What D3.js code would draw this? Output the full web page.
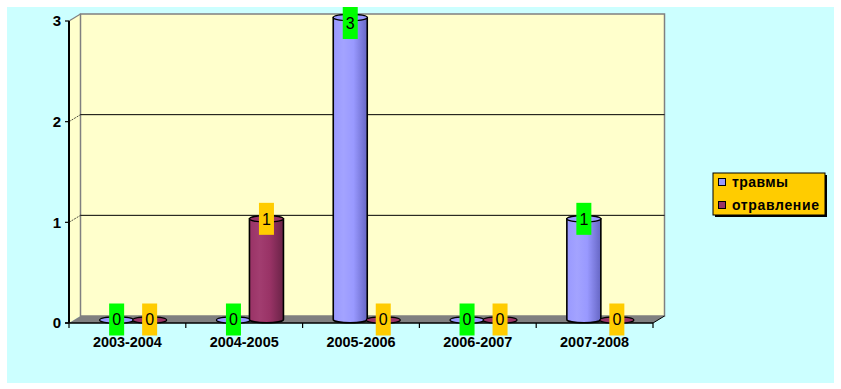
<!DOCTYPE html>
<html><head><meta charset="utf-8">
<script src="https://cdn.jsdelivr.net/npm/d3@7"></script>
<style>html,body{margin:0;padding:0;background:#fff;}svg{display:block;}</style>
</head><body>
<svg id="c" width="841" height="389"></svg>
<script>
const categories = ["2003-2004","2004-2005","2005-2006","2006-2007","2007-2008"];
const seriesNames = ["травмы","отравление"];
const travmy = [0,0,3,0,1];
const otravlenie = [0,1,0,0,0];
const yTicks = [0,1,2,3];
const seriesColors = ["#9999ff","#993366"];
const seriesDark = ["#6666c4","#6a2347"];
const seriesLight = ["#a3a3ff","#a23d70"];
const labelColors = ["#00ff00","#ffcc00"];

const svg = d3.select("#c");
svg.append("rect").attr("x",7).attr("y",7).attr("width",827).attr("height",376).attr("fill","#ccffff");

const X0 = 69, X1 = 653, DX = 11.5, DY = -7;
const x = d3.scaleBand().domain(categories).range([X0, X1]);
const y = d3.scaleLinear().domain([0,3]).range([323, 21]);

const defs = svg.append("defs");
seriesColors.forEach((c,i)=>{
  const g = defs.append("linearGradient").attr("id","g"+i).attr("x1","0").attr("x2","1").attr("y1","0").attr("y2","0");
  g.append("stop").attr("offset","0").attr("stop-color",seriesColors[i]);
  g.append("stop").attr("offset","0.3").attr("stop-color",seriesLight[i]);
  g.append("stop").attr("offset","0.6").attr("stop-color",seriesColors[i]);
  g.append("stop").attr("offset","1").attr("stop-color",seriesDark[i]);
});

// left wall
svg.append("path").attr("d",`M${X0},${y(3)} L${X0+DX},${y(3)+DY} L${X0+DX},${y(0)+DY} L${X0},${y(0)} Z`)
  .attr("fill","#ffffcc");
// back wall
svg.append("rect").attr("x",X0+DX).attr("y",y(3)+DY).attr("width",X1-X0).attr("height",y(0)-y(3))
  .attr("fill","#ffffcc").attr("stroke","#808080").attr("stroke-width",1.5);
svg.append("line").attr("x1",X0).attr("y1",y(3)).attr("x2",X0+DX).attr("y2",y(3)+DY).attr("stroke","#808080").attr("stroke-width",1.2);
// gridlines
[1,2].forEach(v=>{
  svg.append("line").attr("x1",X0+DX).attr("x2",X1+DX).attr("y1",y(v)+DY).attr("y2",y(v)+DY).attr("stroke","#000").attr("stroke-width",1);
  svg.append("line").attr("x1",X0).attr("x2",X0+DX).attr("y1",y(v)).attr("y2",y(v)+DY).attr("stroke","#000").attr("stroke-width",0.7).attr("stroke-dasharray","2,1");
});
// floor
svg.append("path").attr("d",`M${X0},${y(0)} L${X0+DX},${y(0)+DY} L${X1+DX},${y(0)+DY} L${X1},${y(0)} Z`)
  .attr("fill","#808080");
svg.append("line").attr("x1",X1).attr("y1",y(0)).attr("x2",X1+DX).attr("y2",y(0)+DY).attr("stroke","#000").attr("stroke-width",1);

// axes
svg.append("line").attr("x1",X0).attr("x2",X0).attr("y1",y(3)).attr("y2",y(0)).attr("stroke","#000").attr("stroke-width",2);
svg.append("line").attr("x1",X0-4).attr("x2",X1).attr("y1",y(0)).attr("y2",y(0)).attr("stroke","#000").attr("stroke-width",1.5);
yTicks.forEach(v=>{
  svg.append("line").attr("x1",X0-4).attr("x2",X0).attr("y1",y(v)).attr("y2",y(v)).attr("stroke","#000").attr("stroke-width",1.2);
  svg.append("text").attr("x",61).attr("y",y(v)).attr("dy","0.36em").attr("text-anchor","end")
    .attr("font-family","Liberation Sans, Arial, sans-serif").attr("font-weight","bold").attr("font-size",15).text(v);
});
const bounds = categories.map(c=>x(c)).concat([X1]);
bounds.forEach(b=>{
  svg.append("line").attr("x1",b).attr("x2",b).attr("y1",y(0)).attr("y2",y(0)+5).attr("stroke","#000").attr("stroke-width",1.2);
});
categories.forEach(c=>{
  svg.append("text").attr("x",x(c)+x.bandwidth()/2).attr("y",347).attr("text-anchor","middle")
    .attr("font-family","Liberation Sans, Arial, sans-serif").attr("font-weight","bold").attr("font-size",14)
    .attr("textLength",69).attr("lengthAdjust","spacingAndGlyphs").text(c);
});

// bars
const data = [travmy, otravlenie];
const OFF = 16.5, HW = 17, RY = 3.2;
const labels = [];
categories.forEach((c,ci)=>{
  data.forEach((arr,si)=>{
    const v = arr[ci];
    const cx = x(c)+x.bandwidth()/2 + DX/2 + (si===0?-OFF:OFF);
    const yb = y(0)+DY/2;
    const yt = y(v)+DY/2;
    if (v > 0) {
      svg.append("path").attr("d",`M${cx-HW},${yt} L${cx-HW},${yb} A${HW},${RY} 0 0 0 ${cx+HW},${yb} L${cx+HW},${yt} Z`)
        .attr("fill",`url(#g${si})`).attr("stroke","#000").attr("stroke-width",1.6);
      svg.append("ellipse").attr("cx",cx).attr("cy",yt).attr("rx",HW).attr("ry",RY)
        .attr("fill",seriesColors[si]).attr("stroke","#000").attr("stroke-width",1.2);
    } else {
      svg.append("ellipse").attr("cx",cx).attr("cy",yb+0.5).attr("rx",HW).attr("ry",RY)
        .attr("fill",seriesColors[si]).attr("stroke","#000").attr("stroke-width",1.2);
    }
    labels.push({cx, cy: yt, v, si});
  });
});
labels.forEach(l=>{
  let top = Math.max(7, l.cy - 16);
  svg.append("rect").attr("x",l.cx-7.5).attr("y",top).attr("width",15).attr("height",32).attr("fill",labelColors[l.si]);
  svg.append("text").attr("x",l.cx).attr("y",top+16).attr("dy","0.36em").attr("text-anchor","middle")
    .attr("font-family","Liberation Sans, Arial, sans-serif").attr("font-size",16).text(l.v);
});

// legend
svg.append("rect").attr("x",715).attr("y",175).attr("width",112).attr("height",42).attr("fill","#000");
svg.append("rect").attr("x",713).attr("y",173).attr("width",112).attr("height",42).attr("fill","#ffcc00").attr("stroke","#000").attr("stroke-width",1);
seriesNames.forEach((n,i)=>{
  const yy = 178 + i*23;
  svg.append("rect").attr("x",718.5).attr("y",yy+0.5).attr("width",7).attr("height",7).attr("fill",seriesColors[i]).attr("stroke","#000").attr("stroke-width",1);
  svg.append("text").attr("x",732).attr("y",yy+9)
    .attr("font-family","Liberation Sans, Arial, sans-serif").attr("font-weight","bold").attr("font-size",14)
    .attr("textLength", i===0?56:87).attr("lengthAdjust","spacing").text(n);
});
</script>
</body></html>
